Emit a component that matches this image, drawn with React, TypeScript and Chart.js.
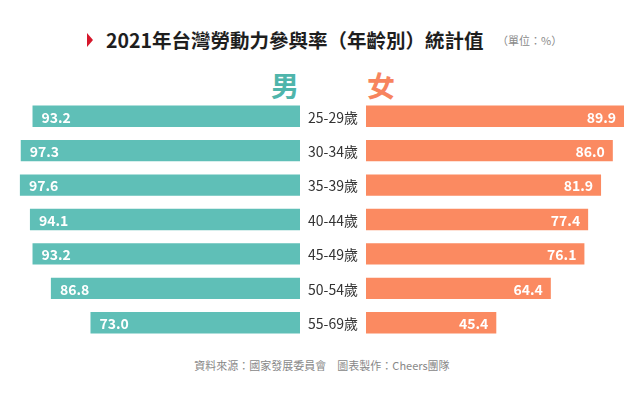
import React, { useEffect, useRef } from "react";
import { Chart, registerables } from "chart.js";

Chart.register(...registerables);

const AGE_GROUPS = ["25-29歲", "30-34歲", "35-39歲", "40-44歲", "45-49歲", "50-54歲", "55-69歲"];
const MALE = [93.2, 97.3, 97.6, 94.1, 93.2, 86.8, 73.0];
const FEMALE = [89.9, 86.0, 81.9, 77.4, 76.1, 64.4, 45.4];

const TITLE = "2021年台灣勞動力參與率（年齡別）統計值";
const UNIT = "（單位：%）";
const MALE_LABEL = "男";
const FEMALE_LABEL = "女";
const SOURCE = "資料來源：國家發展委員會　圖表製作：Cheers團隊";

const TEAL = "#5fbfb7";
const ORANGE = "#fb8a61";
const FONT = "'Noto Sans CJK TC', 'Noto Sans', sans-serif";
const GAP = 66;

function valueLabels(side: "left" | "right") {
  return {
    id: "valueLabels_" + side,
    afterDatasetsDraw(chart: any) {
      const ctx = chart.ctx;
      const meta = chart.getDatasetMeta(0);
      const data = chart.data.datasets[0].data as number[];
      ctx.save();
      ctx.font = `bold 14px ${FONT}`;
      ctx.fillStyle = "#ffffff";
      ctx.textBaseline = "middle";
      meta.data.forEach((el: any, i: number) => {
        const txt = data[i].toFixed(1);
        if (side === "left") {
          ctx.textAlign = "left";
          ctx.fillText(txt, el.x + 9, el.y + 1);
        } else {
          ctx.textAlign = "right";
          ctx.fillText(txt, el.x - 8, el.y + 1);
        }
      });
      if (side === "left") {
        const yScale = chart.scales.y;
        const cx = chart.chartArea.right + GAP / 2;
        ctx.font = `14px ${FONT}`;
        ctx.fillStyle = "#333333";
        ctx.textAlign = "center";
        (chart.data.labels as string[]).forEach((lab, i) => {
          ctx.fillText(lab, cx, yScale.getPixelForValue(i) + 1);
        });
      }
      ctx.restore();
    },
  };
}

export default function App() {
  const leftRef = useRef<HTMLCanvasElement>(null);
  const rightRef = useRef<HTMLCanvasElement>(null);

  useEffect(() => {
    const left = new Chart(leftRef.current!, {
      type: "bar",
      data: {
        labels: AGE_GROUPS,
        datasets: [
          {
            data: MALE,
            backgroundColor: TEAL,
            borderWidth: 0,
            barPercentage: 0.62,
            categoryPercentage: 1,
          },
        ],
      },
      options: {
        indexAxis: "y",
        animation: false,
        responsive: false,
        devicePixelRatio: 1,
        layout: { padding: { left: 13, right: GAP, top: 0, bottom: 0 } },
        plugins: { legend: { display: false }, tooltip: { enabled: false } },
        scales: {
          x: { reverse: true, min: 0, max: 100, display: false },
          y: { display: false },
        },
      },
      plugins: [valueLabels("left")],
    } as any);

    const right = new Chart(rightRef.current!, {
      type: "bar",
      data: {
        labels: AGE_GROUPS,
        datasets: [
          {
            data: FEMALE,
            backgroundColor: ORANGE,
            borderWidth: 0,
            barPercentage: 0.62,
            categoryPercentage: 1,
          },
        ],
      },
      options: {
        indexAxis: "y",
        animation: false,
        responsive: false,
        devicePixelRatio: 1,
        layout: { padding: 0 },
        plugins: { legend: { display: false }, tooltip: { enabled: false } },
        scales: {
          x: { min: 0, max: 100, display: false },
          y: { display: false },
        },
      },
      plugins: [valueLabels("right")],
    } as any);

    return () => {
      left.destroy();
      right.destroy();
    };
  }, []);

  return (
    <div
      style={{
        position: "fixed",
        left: 0,
        top: 0,
        width: 644,
        height: 397,
        overflow: "hidden",
        background: "#ffffff",
        fontFamily: FONT,
      }}
    >
      <div
        style={{
          position: "absolute",
          left: 87,
          top: 33,
          width: 0,
          height: 0,
          borderTop: "7px solid transparent",
          borderBottom: "7px solid transparent",
          borderLeft: "6px solid #d5172b",
        }}
      />
      <div
        style={{
          position: "absolute",
          left: 106,
          top: 28,
          fontSize: 19.5,
          lineHeight: "24px",
          fontWeight: 700,
          color: "#1e1e1e",
          whiteSpace: "nowrap",
        }}
      >
        {TITLE}
      </div>
      <div
        style={{
          position: "absolute",
          left: 497,
          top: 33,
          fontSize: 11,
          lineHeight: "14px",
          color: "#8a8a8a",
          whiteSpace: "nowrap",
        }}
      >
        {UNIT}
      </div>
      <div
        style={{
          position: "absolute",
          right: 644 - 299,
          top: 69,
          fontSize: 28,
          lineHeight: "32px",
          fontWeight: 700,
          color: "#4fb5ab",
        }}
      >
        {MALE_LABEL}
      </div>
      <div
        style={{
          position: "absolute",
          left: 367,
          top: 69,
          fontSize: 28,
          lineHeight: "32px",
          fontWeight: 700,
          color: "#f7845e",
        }}
      >
        {FEMALE_LABEL}
      </div>
      <canvas
        ref={leftRef}
        width={366}
        height={241}
        style={{ position: "absolute", left: 0, top: 99, width: 366, height: 241 }}
      />
      <canvas
        ref={rightRef}
        width={287}
        height={241}
        style={{ position: "absolute", left: 366, top: 99, width: 287, height: 241 }}
      />
      <div
        style={{
          position: "absolute",
          left: 0,
          top: 357,
          width: 644,
          textAlign: "center",
          fontSize: 11,
          lineHeight: "16px",
          color: "#888888",
          whiteSpace: "nowrap",
        }}
      >
        {SOURCE}
      </div>
    </div>
  );
}
